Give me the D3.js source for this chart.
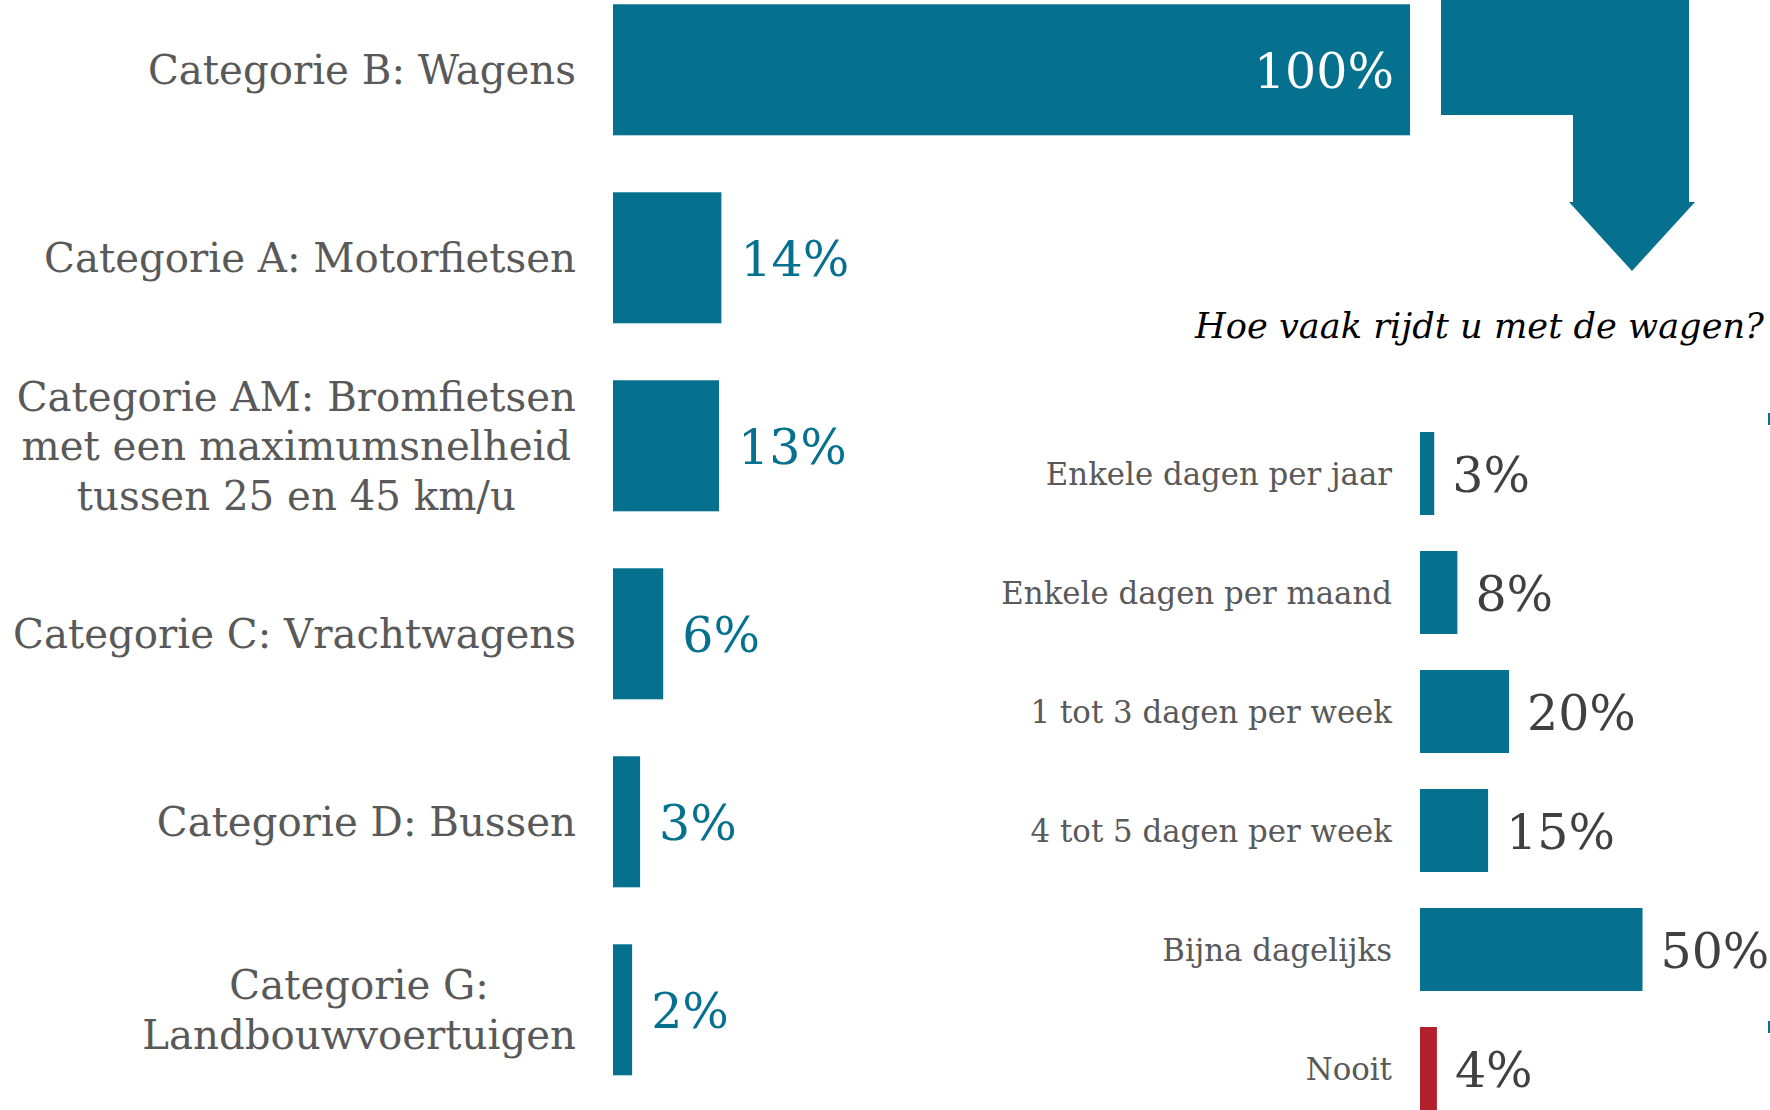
<!DOCTYPE html>
<html>
<head>
<meta charset="utf-8">
<script src="https://cdn.jsdelivr.net/npm/d3@7"></script>
<style>
  body { margin: 0; background: #fff; }
  svg { display: block; }
  text { font-family: "DejaVu Serif", serif; }
</style>
</head>
<body>
<div id="chart"></div>
<script>
// rijbewijs categorieen (links)
var categories = [
  ["Categorie B: Wagens"],
  ["Categorie A: Motorfietsen"],
  ["Categorie AM: Bromfietsen", "met een maximumsnelheid", "tussen 25 en 45 km/u"],
  ["Categorie C: Vrachtwagens"],
  ["Categorie D: Bussen"],
  ["Categorie G:", "Landbouwvoertuigen"]
];
var categoryValues = [100, 13.6, 13.3, 6.3, 3.4, 2.4];

// frequentie (rechts)
var frequencies = [
  "Enkele dagen per jaar",
  "Enkele dagen per maand",
  "1 tot 3 dagen per week",
  "4 tot 5 dagen per week",
  "Bijna dagelijks",
  "Nooit"
];
var frequencyValues = [3.2, 8.4, 20, 15.3, 50, 3.8];
var question = "Hoe vaak rijdt u met de wagen?";

var teal = "#05718f";
var red = "#b31f2a";
var gray = "#595959";

var width = 1770, height = 1110;

var svg = d3.select("#chart").append("svg")
  .attr("width", width)
  .attr("height", height);

// ---- linker grafiek
var xL = d3.scaleLinear().domain([0, 100]).range([613, 1410]);
var yL = d3.scaleBand()
  .domain(d3.range(categories.length))
  .range([-24.2, -24.2 + 6 * 188])
  .paddingInner(0.303)
  .paddingOuter(0.1515);

var left = svg.append("g");

left.selectAll("rect")
  .data(categoryValues)
  .enter()
  .append("rect")
  .attr("x", xL(0))
  .attr("y", (d, i) => yL(i))
  .attr("width", d => xL(d) - xL(0))
  .attr("height", yL.bandwidth())
  .attr("fill", teal);

left.selectAll("text.val")
  .data(categoryValues)
  .enter()
  .append("text")
  .attr("class", "val")
  .text(d => Math.round(d) + "%")
  .attr("x", d => d >= 100 ? xL(d) - 16 : xL(d) + 19)
  .attr("y", (d, i) => yL(i) + yL.bandwidth() / 2)
  .attr("dy", "0.38em")
  .attr("text-anchor", d => d >= 100 ? "end" : "start")
  .attr("fill", d => d >= 100 ? "#fff" : teal)
  .attr("font-size", "49px");

var labelRight = 576;
var lineH = 49.7;
categories.forEach(function (lines, i) {
  var g = left.append("text")
    .attr("fill", gray)
    .attr("font-size", "40.3px")
    .attr("text-anchor", "middle");
  var cy = yL(i) + yL.bandwidth() / 2;
  var spans = lines.map(function (l, k) {
    return g.append("tspan")
      .text(l)
      .attr("y", cy + (k - (lines.length - 1) / 2) * lineH)
      .attr("dy", "0.36em");
  });
  var maxW = d3.max(spans, s => s.node().getComputedTextLength());
  spans.forEach(s => s.attr("x", labelRight - maxW / 2));
});

// ---- pijl
var shaftL = 1573, shaftR = 1689, headL = 1569, headR = 1695;
var arrow = d3.path();
arrow.moveTo(1441, 0);
arrow.lineTo(shaftR, 0);
arrow.lineTo(shaftR, 202);
arrow.lineTo(headR, 202);
arrow.lineTo((headL + headR) / 2, 271);
arrow.lineTo(headL, 202);
arrow.lineTo(shaftL, 202);
arrow.lineTo(shaftL, 115);
arrow.lineTo(1441, 115);
arrow.closePath();
svg.append("path").attr("d", arrow.toString()).attr("fill", teal);

svg.append("text")
  .text(question)
  .attr("x", 1764)
  .attr("y", 338)
  .attr("text-anchor", "end")
  .attr("font-style", "italic")
  .attr("font-size", "35.2px")
  .attr("fill", "#000");

// ---- rechter grafiek
var xR = d3.scaleLinear().domain([0, 100]).range([1420, 1865]);
var yR = d3.scaleBand()
  .domain(d3.range(frequencies.length))
  .range([414, 414 + 6 * 119])
  .paddingInner(0.3025)
  .paddingOuter(0.15125);

var right = svg.append("g");

right.selectAll("rect")
  .data(frequencyValues)
  .enter()
  .append("rect")
  .attr("x", xR(0))
  .attr("y", (d, i) => yR(i))
  .attr("width", d => xR(d) - xR(0))
  .attr("height", yR.bandwidth())
  .attr("fill", (d, i) => frequencies[i] === "Nooit" ? red : teal);

right.selectAll("text.val")
  .data(frequencyValues)
  .enter()
  .append("text")
  .attr("class", "val")
  .text(d => Math.round(d) + "%")
  .attr("x", d => xR(d) + 18)
  .attr("y", (d, i) => yR(i) + yR.bandwidth() / 2)
  .attr("dy", "0.38em")
  .attr("fill", "#404040")
  .attr("font-size", "49px");

right.selectAll("text.cat")
  .data(frequencies)
  .enter()
  .append("text")
  .attr("class", "cat")
  .text(d => d)
  .attr("x", 1392)
  .attr("y", (d, i) => yR(i) + yR.bandwidth() / 2)
  .attr("dy", "0.36em")
  .attr("text-anchor", "end")
  .attr("fill", gray)
  .attr("font-size", "30.8px");

// kleine streepjes aan de rechterrand
svg.append("rect").attr("x", 1768).attr("y", 413).attr("width", 2).attr("height", 12).attr("fill", teal);
svg.append("rect").attr("x", 1768).attr("y", 1021).attr("width", 2).attr("height", 12).attr("fill", teal);
</script>
</body>
</html>
